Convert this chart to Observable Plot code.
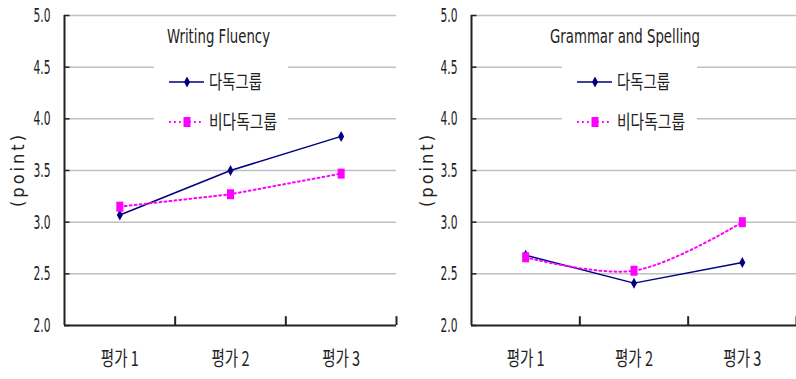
<!DOCTYPE html>
<html><head><meta charset="utf-8">
<script src="https://cdn.jsdelivr.net/npm/d3@7"></script>
<script src="https://cdn.jsdelivr.net/npm/@observablehq/plot@0.6"></script>
<style>
body{margin:0;background:#fff;}
#wrap{position:relative;width:796px;height:379px;display:flex;overflow:hidden;}
.panel{position:relative;}
.legend{position:absolute;}
.legend svg{overflow:visible;}
</style></head><body><div id="wrap"></div>
<script>
const evaluations = ["평가 1", "평가 2", "평가 3"];
const groups = ["다독그룹", "비다독그룹"];
const titles = ["Writing Fluency", "Grammar and Spelling"];
const fluencyExtensive = [3.07, 3.50, 3.83];
const fluencyNonExtensive = [3.15, 3.27, 3.47];
const grammarExtensive = [2.68, 2.41, 2.61];
const grammarNonExtensive = [2.66, 2.53, 3.00];
const yTicks = [2.0, 2.5, 3.0, 3.5, 4.0, 4.5, 5.0];
const yLabel = "(point)";

const NAVY = "#000080", MAGENTA = "#ff00ff", AXIS = "#222";
const LATIN = '"Liberation Sans Narrow", "DejaVu Sans Condensed", "Noto Sans CJK KR", sans-serif';
const KOREAN = '"Noto Sans CJK KR", sans-serif';

const tallDiamond = {draw(ctx) { ctx.moveTo(0, -5.5); ctx.lineTo(3, 0); ctx.lineTo(0, 5.5); ctx.lineTo(-3, 0); ctx.closePath(); }};
const tallSquare = {draw(ctx) { ctx.rect(-3.5, -5, 7, 10); }};

function squeeze(svg, selector, width, adjust = "spacingAndGlyphs") {
  svg.querySelectorAll(selector).forEach(t => {
    t.setAttribute("textLength", width);
    t.setAttribute("lengthAdjust", adjust);
  });
}

function panel(cfg) {
  const ext = cfg.ext.map((v, i) => ({x: i + 0.5, v}));
  const non = cfg.non.map((v, i) => ({x: i + 0.5, v}));
  const chart = Plot.plot({
    width: cfg.width, height: 379,
    marginLeft: cfg.marginLeft, marginRight: cfg.marginRight, marginTop: 15, marginBottom: 54,
    x: {domain: [0, 3]},
    y: {domain: [2, 5]},
    style: {fontFamily: LATIN, fontSize: "20px", color: "#222", background: "transparent"},
    marks: [
      Plot.ruleY(yTicks.filter(d => d > 2), {stroke: "#c0c0c0", strokeWidth: 1.5}),
      Plot.ruleY(yTicks, {x1: 0, x2: 0.05, stroke: AXIS, strokeWidth: 1.5}),
      Plot.axisY({ticks: yTicks, tickSize: 0, tickPadding: 14, tickFormat: d => d.toFixed(1), label: null, fontSize: 20}),
      Plot.axisX({ticks: [0.5, 1.5, 2.5], tickSize: 0, tickPadding: 26, tickFormat: d => evaluations[Math.floor(d)], label: null, fontFamily: KOREAN, fontSize: 20}),
      Plot.ruleX([1, 2, 3], {y1: 2, y2: 2.085, stroke: AXIS, strokeWidth: 2}),
      Plot.ruleX([0], {stroke: AXIS, strokeWidth: 2}),
      Plot.ruleY([2], {stroke: AXIS, strokeWidth: 2}),
      Plot.text([yLabel], {frameAnchor: "left", textAnchor: "middle", text: d => d, rotate: -90, dx: -(cfg.marginLeft - cfg.labelX), dy: -1, fontSize: 18, fill: "#222"}),
      Plot.text([cfg.title], {frameAnchor: "top", text: d => d, dx: cfg.titleDx, dy: 13, fontSize: 20, fill: "#222"}),
      Plot.line(ext, {x: "x", y: "v", stroke: NAVY, strokeWidth: 1.5}),
      Plot.dot(ext, {x: "x", y: "v", symbol: tallDiamond, fill: NAVY, r: 4}),
      Plot.line(non, {x: "x", y: "v", stroke: MAGENTA, strokeWidth: 2, strokeDasharray: "1.8,3.2", curve: cfg.curve}),
      Plot.dot(non, {x: "x", y: "v", symbol: tallSquare, fill: MAGENTA, r: 4})
    ]
  });
  squeeze(chart, 'g[aria-label="x-axis tick label"] text', 38);
  squeeze(chart, 'g[aria-label="y-axis tick label"] text', 17);
  chart.querySelectorAll('text').forEach(t => {
    if (t.textContent === yLabel) { t.style.letterSpacing = "3px"; }
    if (t.textContent === cfg.title) { t.setAttribute("textLength", cfg.titleW); t.setAttribute("lengthAdjust", "spacingAndGlyphs"); }
  });

  const div = document.createElement("div");
  div.className = "panel";
  div.style.width = cfg.width + "px";
  div.appendChild(chart);

  // legend
  const L = cfg.legend;
  const lw = L.w, lh = 78;
  const lsvg = d3.create("svg").attr("width", lw + 40).attr("height", lh);
  lsvg.append("rect").attr("width", lw).attr("height", lh).attr("fill", "#fff");
  const styles = [
    {stroke: NAVY, dash: null, width: 1.5, sym: tallDiamond, tw: 53},
    {stroke: MAGENTA, dash: "1.8,3.2", width: 2, sym: tallSquare, tw: 68}
  ];
  groups.forEach((g, i) => {
    const s = styles[i];
    const cy = 22 + i * 40;
    lsvg.append("line").attr("x1", L.lineX).attr("x2", L.lineX + 35).attr("y1", cy).attr("y2", cy)
      .attr("stroke", s.stroke).attr("stroke-width", s.width).attr("stroke-dasharray", s.dash);
    lsvg.append("path").attr("d", d3.symbol(s.sym)()).attr("transform", `translate(${L.lineX + 18},${cy})`).attr("fill", s.stroke);
    lsvg.append("text").attr("x", L.lineX + 40).attr("y", cy).attr("dy", "0.36em")
      .attr("font-family", KOREAN).attr("font-size", 19).attr("fill", "#222")
      .attr("textLength", s.tw).attr("lengthAdjust", "spacingAndGlyphs").text(g);
  });
  const ld = document.createElement("div");
  ld.className = "legend";
  ld.style.left = L.left + "px"; ld.style.top = "60px";
  ld.appendChild(lsvg.node());
  div.appendChild(ld);
  return div;
}

const wrap = document.getElementById("wrap");
wrap.appendChild(panel({
  width: 400, marginLeft: 64, marginRight: 4, labelX: 18, title: titles[0], titleDx: -12, titleW: 103,
  ext: fluencyExtensive, non: fluencyNonExtensive, curve: "linear",
  legend: {left: 154, w: 134, lineX: 15}
}));
wrap.appendChild(panel({
  width: 396, marginLeft: 71, marginRight: 0, labelX: 27, title: titles[1], titleDx: -9, titleW: 150,
  ext: grammarExtensive, non: grammarNonExtensive, curve: "catmull-rom",
  legend: {left: 162, w: 135, lineX: 15}
}));
</script></body></html>
